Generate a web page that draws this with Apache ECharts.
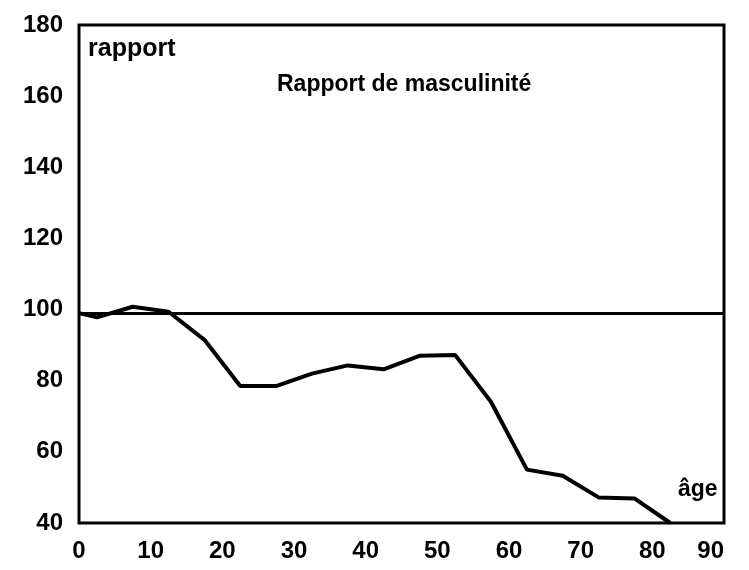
<!DOCTYPE html>
<html>
<head>
<meta charset="utf-8">
<script src="https://cdn.jsdelivr.net/npm/echarts@6/dist/echarts.min.js"></script>
<style>
  html, body { margin: 0; padding: 0; background: #fff; }
  #chart { width: 749px; height: 570px; }
</style>
</head>
<body>
<div id="chart"></div>
<script>
// données (âge, rapport)
const ages = [0, 2.5, 7.5, 12.5, 17.5, 22.5, 27.5, 32.5, 37.5, 42.5, 47.5, 52.5, 57.5, 62.5, 67.5, 72.5, 77.5, 82.5];
const ratios = [99, 97.8, 100.8, 99.4, 91.5, 78.5, 78.5, 82, 84.3, 83.2, 87, 87.2, 74, 55, 53.3, 47.2, 46.9, 40];
const refLine = 99;
const xTicks = [0, 90, 10];   // min, max, interval
const yTicks = [40, 180, 20];

const chart = echarts.init(document.getElementById('chart'));
const font = 'Liberation Sans, Arial, sans-serif';

const options = {
  animation: false,
  backgroundColor: '#fff',
  grid: {
    left: 79,
    right: 25,
    top: 25,
    bottom: 47,
    show: true,
    borderColor: '#000',
    borderWidth: 3,
  },
  xAxis: {
    type: 'value',
    min: xTicks[0],
    max: xTicks[1],
    interval: xTicks[2],
    axisLine: { show: false },
    axisTick: { show: false },
    splitLine: { show: false },
    axisLabel: {
      color: '#000',
      fontFamily: font,
      fontWeight: 'bold',
      fontSize: 24,
      margin: 16,
      alignMaxLabel: 'right',
    },
  },
  yAxis: {
    type: 'value',
    min: yTicks[0],
    max: yTicks[1],
    interval: yTicks[2],
    axisLine: { show: false },
    axisTick: { show: false },
    splitLine: { show: false },
    axisLabel: {
      color: '#000',
      fontFamily: font,
      fontWeight: 'bold',
      fontSize: 24,
      margin: 16,
      padding: [0, 0, 12, 0],   // chiffres un peu au-dessus des graduations
    },
  },
  graphic: [
    {
      type: 'text', left: 88, top: 37,
      style: { text: 'rapport', font: 'bold 25px ' + font, fill: '#000' },
    },
    {
      type: 'text', left: 277, top: 73,
      style: { text: 'Rapport de masculinité', font: 'bold 23px ' + font, fill: '#000' },
    },
    {
      type: 'text', left: 678, top: 478,
      style: { text: 'âge', font: 'bold 23px ' + font, fill: '#000' },
    },
  ],
  series: [
    {
      type: 'line',
      data: ages.map((a, i) => [a, ratios[i]]),
      symbol: 'none',
      lineStyle: { color: '#000', width: 4 },
      markLine: {
        silent: true,
        symbol: 'none',
        label: { show: false },
        lineStyle: { color: '#000', width: 3, type: 'solid' },
        data: [{ yAxis: refLine }],
      },
    },
  ],
};

chart.setOption(options);
</script>
</body>
</html>
